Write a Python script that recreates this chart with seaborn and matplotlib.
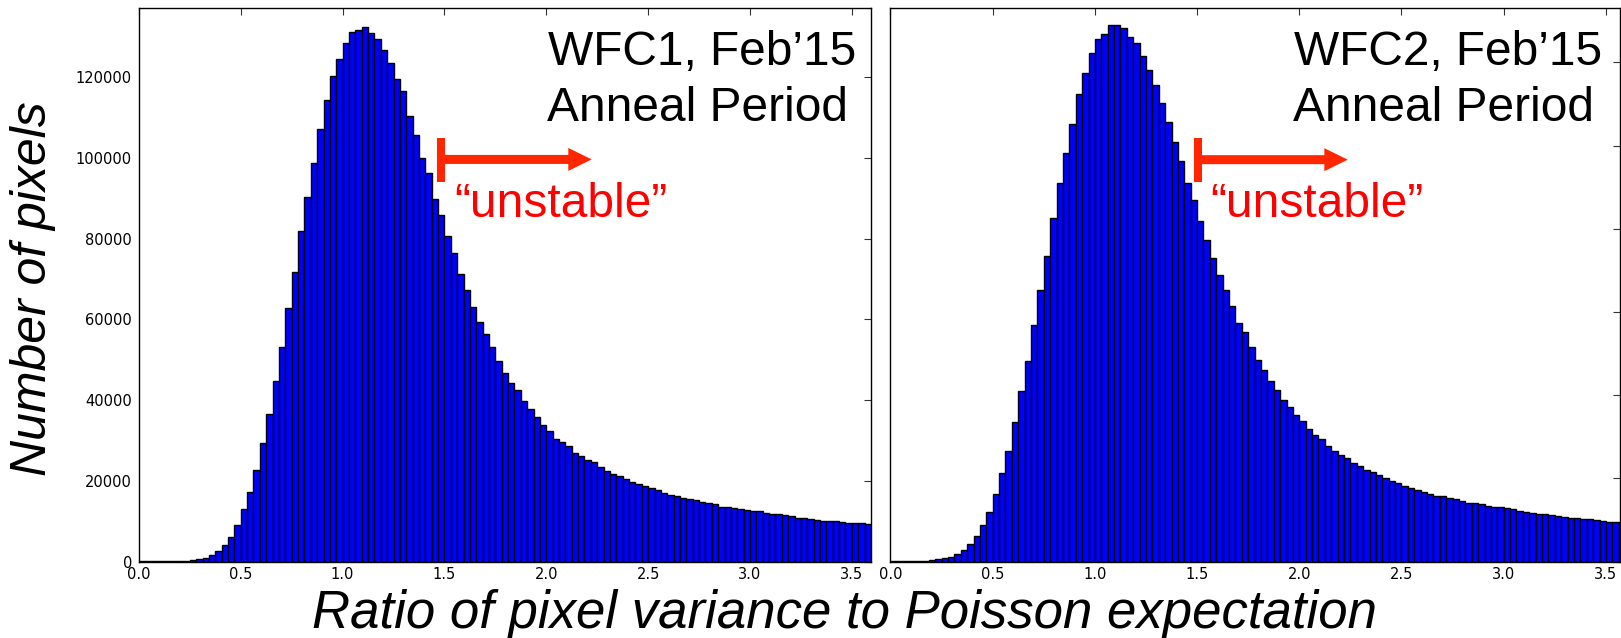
import numpy as np
import pandas as pd
import matplotlib
matplotlib.use("Agg")
import matplotlib.pyplot as plt
import seaborn as sns

# ---------------- data ----------------
bin_width = 0.03125
n_bins = 115
bin_edges = [i * bin_width for i in range(n_bins + 1)]

wfc1_counts = [200, 200, 200, 200, 200, 200, 200, 250,
               340, 590, 1000, 1740, 2650, 4215, 6110, 9000, 12960, 17330, 22610, 29300,
               36640, 44800, 53220, 62710,
               71700, 81850, 90260, 98600, 107170, 114350, 120210, 124340, 128300, 131020,
               131520, 132420, 130850, 129290, 126650, 123510, 119470, 116580, 110310, 105690,
               99920, 96280, 89770, 85730, 80610, 76320, 71210, 67250, 62960,
               59240, 56270, 53060, 49590, 46620, 44310, 42490,
               39770, 37790, 35730, 33830, 32350, 30450, 29710, 28640, 26820, 26080,
               25090, 24590, 23520, 22370, 21710, 21210, 20390, 19810, 19310, 18740,
               18160, 17830, 17090, 16590, 16340, 15850, 15440, 15190, 14860, 14530,
               14280, 13620, 13540, 13370, 12960, 12880, 12550, 12470, 12050, 11890,
               11810, 11560, 11310, 10900, 10820, 10650, 10400, 10160, 10070, 9990,
               9910, 9660, 9580, 9500, 9250]

wfc2_counts = [200, 200, 200, 200, 200, 250,
               400, 650, 890, 1210, 1850, 2810, 4330, 6170, 8730, 11930, 16250, 21300,
               26660, 33540, 41060, 48350, 56990,
               65230, 73560, 82680, 91000, 98290, 105250, 112370, 117340, 122300, 125580,
               126780, 128940, 128940, 128220, 126220, 124700, 121580, 118220, 114620, 110130,
               105650, 100850, 96370, 91000, 87000, 81880, 77240, 73000, 68840, 65230,
               61500, 57470, 55100, 51700,
               48590, 46110, 43470, 41220, 38980, 37140, 35140, 33780, 31940, 30420,
               29380, 27700, 26580, 25620, 24900, 23700, 22980, 22100, 21460, 20740,
               20100, 19460, 18980, 18250, 17620, 17290, 16660, 16250, 15850, 15700,
               15210, 14980, 14490, 14170, 14010, 13770, 13290, 13210, 13050, 12810,
               12570, 12250, 11930, 11690, 11530, 11450, 11210, 11050, 10730, 10570,
               10490, 10330, 10170, 10010, 9770, 9610, 9450, 9450]

panel_titles = [["WFC1, Feb\u201915", "Anneal Period"], ["WFC2, Feb\u201915", "Anneal Period"]]
unstable_label = "\u201cunstable\u201d"
y_ticks = [0, 20000, 40000, 60000, 80000, 100000, 120000]
x_ticks = [0.0, 0.5, 1.0, 1.5, 2.0, 2.5, 3.0, 3.5]
x_label = "Ratio of pixel variance to Poisson expectation"
y_label = "Number of pixels"

# ---------------- style ----------------
sns.set_theme(style="white")
plt.rcParams["font.family"] = ["DejaVu Sans"]

W, H = 1621, 638
fig = plt.figure(figsize=(W / 100, H / 100), dpi=100)

bottom = (H - 561.7) / H
height = 553.4 / H
ax1 = fig.add_axes([138.9 / W, bottom, 731.8 / W, height])
ax2 = fig.add_axes([890.5 / W, bottom, 729.5 / W, height])

centers = [(bin_edges[i] + bin_edges[i + 1]) / 2 for i in range(n_bins)]
df1 = pd.DataFrame({"ratio": centers, "count": wfc1_counts})
df2 = pd.DataFrame({"ratio": centers, "count": wfc2_counts})

for ax, df in [(ax1, df1), (ax2, df2)]:
    sns.histplot(data=df, x="ratio", weights="count", bins=bin_edges, ax=ax,
                 color="#0000ff", edgecolor="black", linewidth=1.0, alpha=1.0)
    ax.set_xlabel("")
    ax.set_ylabel("")
    ax.set_xticks(x_ticks)
    ax.set_xticklabels([f"{t:.1f}" for t in x_ticks])
    ax.set_yticks(y_ticks)
    ax.tick_params(axis="both", direction="in", top=True, right=True, length=5,
                   width=0.8, color="#333333", labelsize=10.5, labelcolor="black")
    ax.tick_params(axis="x", pad=4)
    ax.tick_params(axis="y", pad=5)
    for sp in ax.spines.values():
        sp.set_visible(True)
        sp.set_color("black")
        sp.set_linewidth(1.0)
    ax.grid(False)

ax1.set_xlim(0, 3.5925)
ax1.set_ylim(0, 137000)
ax1.set_yticklabels([str(t) for t in y_ticks])

ax2.set_xlim(0, 3.569)
ax2.set_ylim(0, 133000)
ax2.set_yticklabels([])

# ---------------- annotations ----------------
txt_font = dict(family=["Liberation Sans", "DejaVu Sans"], fontsize=34.5, color="black")
red_font = dict(family=["Liberation Sans", "DejaVu Sans"], fontsize=34.5, color="#ff0000")
arrow_color = "#ff2600"

# left panel
ax1.text(2.006, 122930, panel_titles[0][0], ha="left", va="baseline", **txt_font)
ax1.text(2.001, 109150, panel_titles[0][1], ha="left", va="baseline", **txt_font)
ax1.plot([1.485, 1.485], [94080, 104870], color=arrow_color, lw=5.8, solid_capstyle="butt")
ax1.arrow(1.485, 99590, 2.223 - 1.485, 0, width=2230, head_width=5690, head_length=0.115,
          length_includes_head=True, color=arrow_color, linewidth=0)
ax1.text(1.548, 85390, unstable_label, ha="left", va="baseline", **red_font)

# right panel
ax2.text(1.974, 119260, panel_titles[1][0], ha="left", va="baseline", **txt_font)
ax2.text(1.969, 105880, panel_titles[1][1], ha="left", va="baseline", **txt_font)
ax2.plot([1.502, 1.502], [91170, 101730], color=arrow_color, lw=5.8, solid_capstyle="butt")
ax2.arrow(1.502, 96620, 2.237 - 1.502, 0, width=2160, head_width=5520, head_length=0.1145,
          length_includes_head=True, color=arrow_color, linewidth=0)
ax2.text(1.563, 82830, unstable_label, ha="left", va="baseline", **red_font)

# axis labels (shared)
lab_font = dict(family=["Liberation Sans", "DejaVu Sans"], style="italic", color="black")
fig.text(33 / W, (H - 289) / H, y_label, rotation=90, ha="center", va="center",
         fontsize=36, **lab_font)
fig.text(844 / W, 10 / H, x_label, ha="center", va="baseline", fontsize=38, **lab_font)

fig.savefig("out.png", dpi=100, facecolor="white")
